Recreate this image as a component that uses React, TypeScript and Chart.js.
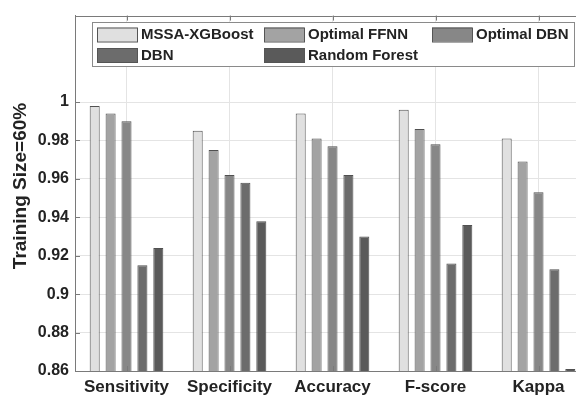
import React, { useEffect, useRef } from 'react';
import { Chart, registerables } from 'chart.js';

Chart.register(...registerables);

const categories = ['Sensitivity', 'Specificity', 'Accuracy', 'F-score', 'Kappa'];
const seriesNames = ['MSSA-XGBoost', 'Optimal FFNN', 'Optimal DBN', 'DBN', 'Random Forest'];
const mssaXgboost = [0.998, 0.985, 0.994, 0.996, 0.981];
const optimalFfnn = [0.994, 0.975, 0.981, 0.986, 0.969];
const optimalDbn = [0.990, 0.962, 0.977, 0.978, 0.953];
const dbn = [0.915, 0.958, 0.962, 0.916, 0.913];
const randomForest = [0.924, 0.938, 0.930, 0.936, 0.861];
const yTicks = [0.86, 0.88, 0.9, 0.92, 0.94, 0.96, 0.98, 1.0];
const yTickLabels = ['0.86', '0.88', '0.9', '0.92', '0.94', '0.96', '0.98', '1'];
const yTitle = 'Training Size=60%';

const seriesColors = ['#e0e0e0', '#a3a3a3', '#878787', '#6c6c6c', '#5a5a5a'];
const FONT = '"Liberation Sans", Arial, Helvetica, sans-serif';
const TEXT = '#232323';
const AXIS = '#7a7a7a';

export default function App() {
  const ref = useRef<HTMLCanvasElement>(null);

  useEffect(() => {
    if (!ref.current) return;
    const seriesValues = [mssaXgboost, optimalFfnn, optimalDbn, dbn, randomForest];

    const framePlugin = {
      id: 'frame',
      afterDraw(chart: any) {
        const { ctx, chartArea: a, scales } = chart;
        ctx.save();
        ctx.strokeStyle = AXIS;
        ctx.lineWidth = 1;
        ctx.beginPath();
        ctx.moveTo(a.left, Math.round(a.top) + 0.5);
        ctx.lineTo(a.right, Math.round(a.top) + 0.5);
        ctx.stroke();
        categories.forEach((_c, i) => {
          const x = Math.round(scales.x.getPixelForValue(i)) + 0.5;
          ctx.beginPath();
          ctx.moveTo(x, a.top);
          ctx.lineTo(x, a.top + 5);
          ctx.moveTo(x, a.bottom);
          ctx.lineTo(x, a.bottom - 5);
          ctx.stroke();
        });
        yTicks.forEach((v) => {
          const y = Math.round(scales.y.getPixelForValue(v)) + 0.5;
          ctx.beginPath();
          ctx.moveTo(a.left, y);
          ctx.lineTo(a.left + 5, y);
          ctx.stroke();
        });

        // legend box
        const lx = 92, ly = 22, lw = 482, lh = 44;
        ctx.fillStyle = '#ffffff';
        ctx.fillRect(lx, ly, lw, lh);
        ctx.strokeStyle = '#8a8a8a';
        ctx.strokeRect(lx + 0.5, ly + 0.5, lw, lh);
        const colX = [97, 264, 432];
        const rowY = [34.5, 55];
        ctx.font = `bold 15px ${FONT}`;
        ctx.textBaseline = 'middle';
        ctx.textAlign = 'left';
        seriesNames.forEach((name, i) => {
          const x = colX[i % 3];
          const y = rowY[Math.floor(i / 3)];
          ctx.fillStyle = seriesColors[i];
          ctx.fillRect(x, y - 7, 40, 14);
          ctx.strokeStyle = '#555555';
          ctx.strokeRect(x + 0.5, y - 7 + 0.5, 40, 14);
          ctx.fillStyle = TEXT;
          ctx.fillText(name, x + 44, y + 0.5);
        });

        // y title
        ctx.translate(21, 186);
        ctx.rotate(-Math.PI / 2);
        ctx.textAlign = 'center';
        ctx.textBaseline = 'middle';
        ctx.font = `bold 19px ${FONT}`;
        ctx.fillStyle = TEXT;
        ctx.fillText(yTitle, 0, 0);
        ctx.restore();
      },
    };

    const chart = new Chart(ref.current, {
      type: 'bar',
      data: {
        labels: categories,
        datasets: seriesNames.map((name, i) => ({
          label: name,
          data: seriesValues[i],
          backgroundColor: seriesColors[i],
          borderColor: '#505050',
          borderWidth: 1,
          categoryPercentage: 0.772,
          barPercentage: 0.63,
        })),
      },
      options: {
        responsive: false,
        animation: false,
        layout: { padding: { top: 10, right: 10, left: 0, bottom: 0 } },
        plugins: { legend: { display: false }, tooltip: { enabled: false } },
        scales: {
          x: {
            type: 'category',
            offset: true,
            grid: { offset: false, color: '#e4e4e4', drawTicks: false },
            border: { display: true, color: AXIS },
            ticks: { font: { family: FONT, size: 17, weight: 'bold' }, color: TEXT, padding: 6 },
            afterFit(s: any) { s.height = 29; },
          },
          y: {
            min: 0.86,
            max: 1.045,
            afterBuildTicks(s: any) { s.ticks = yTicks.map((v) => ({ value: v })); },
            ticks: {
              font: { family: FONT, size: 16, weight: 'bold' },
              color: TEXT,
              padding: 6,
              callback: (v: any) => {
                const idx = yTicks.findIndex((t) => Math.abs(t - Number(v)) < 1e-9);
                return idx >= 0 ? yTickLabels[idx] : '';
              },
            },
            grid: { color: '#e4e4e4', drawTicks: false },
            border: { display: true, color: AXIS },
            afterFit(s: any) { s.width = 75; },
          },
        },
      },
      plugins: [framePlugin],
    } as any);

    return () => chart.destroy();
  }, []);

  return (
    <div style={{ position: 'fixed', left: 0, top: 0, width: 576, height: 400, overflow: 'hidden', background: '#ffffff' }}>
      <canvas ref={ref} width={600} height={400} style={{ display: 'block' }} />
    </div>
  );
}
